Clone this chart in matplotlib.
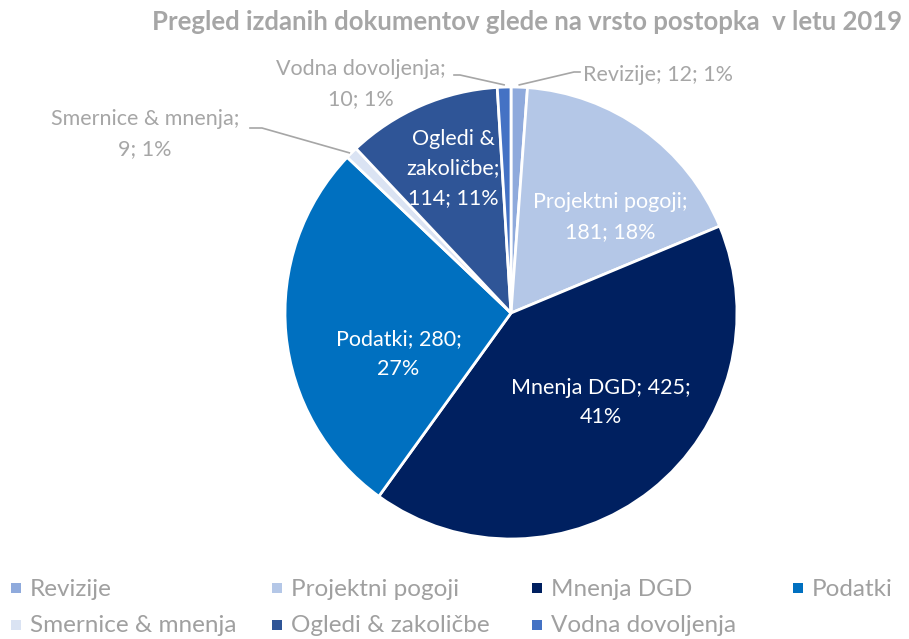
import matplotlib
matplotlib.use("Agg")
import matplotlib.pyplot as plt
import numpy as np
from matplotlib.patches import Rectangle

categories = ["Revizije", "Projektni pogoji", "Mnenja DGD", "Podatki",
              "Smernice & mnenja", "Ogledi & zakoličbe", "Vodna dovoljenja"]
values = [12, 181, 425, 280, 9, 114, 10]
percents = [1, 18, 41, 27, 1, 11, 1]
colors = ["#8FAADC", "#B4C7E7", "#002060", "#0070C0", "#DAE3F3", "#2F5597", "#4472C4"]
title = "Pregled izdanih dokumentov glede na vrsto postopka  v letu 2019"

label_texts = [
    "Revizije; 12; 1%",
    "Projektni pogoji;\n181; 18%",
    "Mnenja DGD; 425;\n41%",
    "Podatki; 280;\n27%",
    "Smernice & mnenja;\n9; 1%",
    "Ogledi &\nzakoličbe;\n114; 11%",
    "Vodna dovoljenja;\n10; 1%",
]

plt.rcParams['font.family'] = ['Lato', 'DejaVu Sans']

W, H = 909, 639
R = 226.0
CX, CY = 511.0, 313.0

fig = plt.figure(figsize=(W / 100, H / 100), dpi=100)
ax = fig.add_axes([0, 0, 1, 1])

wedges, _ = ax.pie(values, colors=colors, startangle=90, counterclock=False,
                   radius=1.0, center=(0, 0),
                   wedgeprops=dict(edgecolor='white', linewidth=2))
ax.set_xlim(-CX / R, (W - CX) / R)
ax.set_ylim(-(H - CY) / R, CY / R)
ax.set_aspect('equal')
ax.axis('off')

def px(x, y):
    return ((x - CX) / R, (CY - y) / R)

FS = 15.5
LS = 1.6
GRAY = "#A6A6A6"

# inside labels: (radius fraction, angle deg)
inside = {1: (0.61, 44), 2: (0.56, -45), 3: (0.53, 200), 5: (0.69, 111.7)}
for i, (rf, ang) in inside.items():
    a = np.deg2rad(ang)
    ax.text(rf * np.cos(a), rf * np.sin(a), label_texts[i], ha='center', va='center',
            color='white', fontsize=FS, linespacing=LS)

def mid_point(i, rf=1.0):
    w = wedges[i]
    a = np.deg2rad((w.theta1 + w.theta2) / 2)
    return rf * np.cos(a), rf * np.sin(a)

# Revizije (outside, right)
p0 = mid_point(0, 1.0)
ax.plot([p0[0], px(574, 72)[0], px(580, 72)[0]], [p0[1] + 0.01, px(574, 72)[1], px(580, 72)[1]],
        color=GRAY, lw=1.2)
tx, ty = px(583, 75)
ax.text(tx, ty, label_texts[0], ha='left', va='center', color=GRAY, fontsize=FS)

# Vodna dovoljenja (outside, upper left)
p6 = mid_point(6, 1.0)
ax.plot([p6[0], px(460, 75)[0], px(454, 75)[0]], [p6[1] + 0.01, px(460, 75)[1], px(454, 75)[1]],
        color=GRAY, lw=1.2)
tx, ty = px(361, 84)
ax.text(tx, ty, label_texts[6], ha='center', va='center', color=GRAY, fontsize=FS,
        linespacing=LS)

# Smernice & mnenja (outside, left)
p4 = mid_point(4, 1.0)
ax.plot([p4[0] - 0.01, px(262, 128)[0], px(250, 128)[0]], [p4[1], px(262, 128)[1], px(250, 128)[1]],
        color=GRAY, lw=1.2)
tx, ty = px(145, 134)
ax.text(tx, ty, label_texts[4], ha='center', va='center', color=GRAY, fontsize=FS,
        linespacing=LS)

fig.text(527 / W, 1 - 22 / H, title, ha='center', va='center', color=GRAY,
         fontsize=18.5, fontweight='bold')

# legend: equal-width columns, row-wise
LEG_X0, LEG_COLW = 11, 260.7
LEG_ROWS_Y = [588, 625]
SQ = 10
for k, (name, c) in enumerate(zip(categories, colors)):
    row, col = divmod(k, 4)
    x = LEG_X0 + col * LEG_COLW
    y = LEG_ROWS_Y[row]
    fig.patches.append(Rectangle((x / W, 1 - (y + SQ / 2) / H), SQ / W, SQ / H,
                                 transform=fig.transFigure, facecolor=c,
                                 edgecolor='none'))
    fig.text((x + 19) / W, 1 - (y + 1) / H, name, ha='left', va='center',
             color="#A0A0A0", fontsize=17.5)

fig.savefig("out.png", dpi=100)
